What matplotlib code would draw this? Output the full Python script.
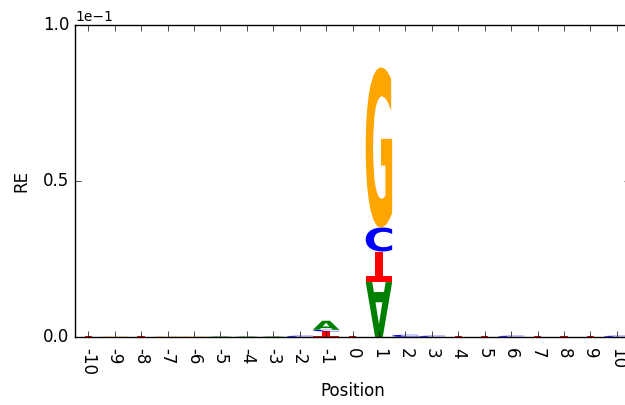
import matplotlib
matplotlib.use('Agg')
import matplotlib.pyplot as plt
from matplotlib.textpath import TextPath
from matplotlib.font_manager import FontProperties
from matplotlib.patches import PathPatch
from matplotlib.transforms import Affine2D
import numpy as np
plt.style.use('classic')

positions = list(range(-10, 11))
# letters stacked bottom -> top with their heights, per position
stacks = {
    -10: [('T', 0.0002)], -9: [('G', 0.0002)], -8: [('T', 0.0002)],
    -7: [('G', 0.0002)], -6: [('G', 0.0002)], -5: [('A', 0.0002)],
    -4: [('A', 0.0002)], -3: [('A', 0.0002)], -2: [('C', 0.0004)],
    -1: [('T', 0.0018), ('C', 0.0005), ('A', 0.0029)],
    0: [('T', 0.0002)],
    1: [('A', 0.0176), ('T', 0.0098), ('C', 0.0077), ('G', 0.0513)],
    2: [('C', 0.0007)], 3: [('C', 0.0004)], 4: [('T', 0.0002)],
    5: [('T', 0.0002)], 6: [('C', 0.0004)], 7: [('T', 0.0002)],
    8: [('T', 0.0002)], 9: [('T', 0.0002)], 10: [('C', 0.0004)],
}
# glyphs that appear upside down in the reference
flipped = {(1, 'A'), (1, 'T'), (1, 'C'), (-1, 'T')}
colors = {'A': 'green', 'C': 'blue', 'G': 'orange', 'T': 'red'}

fp = FontProperties(family='DejaVu Sans', weight='bold')


def draw_letter(ax, letter, x, y0, height, flip=False, width=1.0):
    path = TextPath((0, 0), letter, size=1, prop=fp)
    ext = path.get_extents()
    tr = Affine2D().translate(-ext.x0, -ext.y0).scale(1 / ext.width, 1 / ext.height)
    if flip:
        tr = tr.scale(1, -1).translate(0, 1)
    tr = tr.scale(width, height).translate(x - width / 2, y0)
    ax.add_patch(PathPatch(tr.transform_path(path), facecolor=colors[letter],
                           edgecolor='none'))


fig = plt.figure(figsize=(6.25, 4.05), dpi=100, facecolor='white')
ax = fig.add_axes([0.12, 0.168, 0.888, 0.77])
for pos in positions:
    y = 0.0
    for letter, h in stacks[pos]:
        draw_letter(ax, letter, pos, y, h, flip=(pos, letter) in flipped)
        y += h

ax.set_xlim(-10.5, 10.5)
ax.set_ylim(0, 0.1)
ax.set_xticks(positions)
ax.set_xticklabels([str(p) for p in positions], rotation=270)
ax.tick_params(axis='x', pad=8)
ax.set_yticks([0, 0.05, 0.1])
ax.ticklabel_format(axis='y', style='sci', scilimits=(0, 0))
ax.yaxis.get_offset_text().set_fontsize(10)
ax.set_xlabel('Position', labelpad=5)
ax.set_ylabel('RE', labelpad=9)
fig.savefig('out.png', dpi=100, facecolor='white')
